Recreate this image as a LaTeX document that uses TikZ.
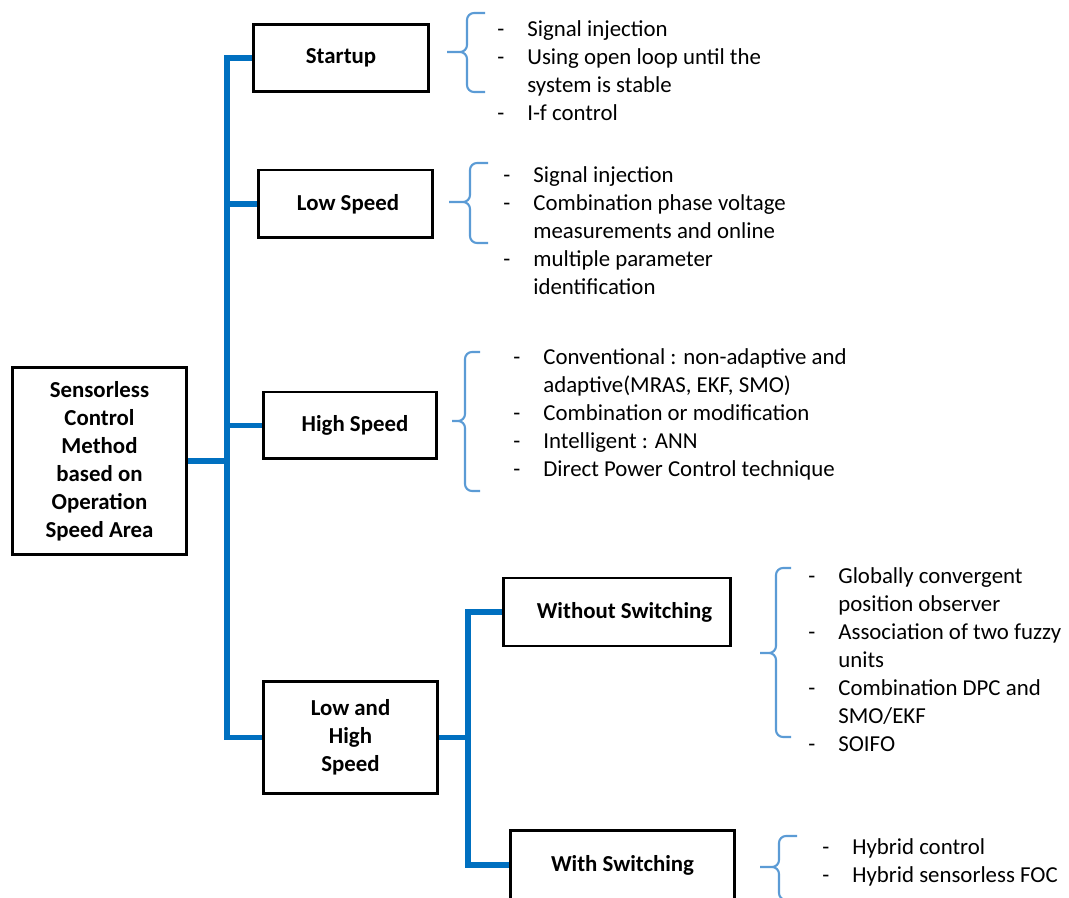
\documentclass[tikz,border=0pt]{standalone}
\usepackage{fontspec}
\setmainfont{Carlito}
\usepackage{tikz}
\definecolor{branchblue}{RGB}{0,112,192}
\definecolor{braceblue}{RGB}{91,155,213}

\tikzset{
  box/.style={draw=black, line width=1.7pt, fill=white, align=center, inner sep=0pt,
    font=\bfseries\fontsize{13}{15.9}\selectfont},
  branch/.style={draw=branchblue, line width=3.3pt, line join=miter},
  curly/.style={draw=braceblue, line width=1.2pt, rounded corners=4pt},
  items/.style={anchor=north west, inner sep=0pt, font=\fontsize{13}{15.9}\selectfont}
}

\begin{document}
\begin{tikzpicture}[x=0.02cm, y=-0.02cm]
\useasboundingbox (0,0) rectangle (1069,898);
% Draw the boxes
\node[box, minimum width=3.5cm, minimum height=3.76cm] (root) at (99.5,461)
  {Sensorless\\Control\\Method\\based on\\Operation\\Speed Area};
\node[box, minimum width=3.52cm, minimum height=1.34cm] (startup) at (341,58) {Startup};
\node[box, minimum width=3.5cm, minimum height=1.36cm] (low) at (345.5,204) {\hspace{0.1cm}Low Speed};
\node[box, minimum width=3.48cm, minimum height=1.34cm] (high) at (350,425.5) {\hspace{0.2cm}High Speed};
\node[box, minimum width=3.5cm, minimum height=2.26cm] (lowhigh) at (350.5,737.5) {Low and\\High\\Speed};
\node[box, minimum width=4.56cm, minimum height=1.36cm] (without) at (617,612) {\hspace{0.3cm}Without Switching};
\node[box, minimum width=4.5cm, minimum height=1.4cm] (with) at (622.5,865) {With Switching};
% Draw the blue branches
\coordinate (spine) at (227,0);
\coordinate (spinetwo) at (468,0);
\draw[branch] (startup.west) -- (startup.west -| spine) -- (lowhigh.west -| spine) -- (lowhigh.west);
\draw[branch] (root.east) -- (root.east -| spine);
\draw[branch] (low.west) -- (low.west -| spine);
\draw[branch] (high.west) -- (high.west -| spine);
\draw[branch] (without.west) -- (without.west -| spinetwo) -- (with.west -| spinetwo) -- (with.west);
\draw[branch] (lowhigh.east) -- (lowhigh.east -| spinetwo);
% Draw the braces
\draw[curly] (485,13) -- (467,13) -- (467,52) -- (447,52) (485,92) -- (467,92) -- (467,52) -- (447,52);
\draw[curly] (488,163) -- (470,163) -- (470,202) -- (449,202) (488,243) -- (470,243) -- (470,202) -- (449,202);
\draw[curly] (480,352) -- (465,352) -- (465,421) -- (452,421) (480,491) -- (465,491) -- (465,421) -- (452,421);
\draw[curly] (791,568) -- (776,568) -- (776,653) -- (760,653) (791,737) -- (776,737) -- (776,653) -- (760,653);
\draw[curly] (797,836) -- (779,836) -- (779,867) -- (760,867) (797,900) -- (779,900) -- (779,867) -- (760,867);
% Lists
\node[items] (startitems) at (497,17) {\begin{tabular}{@{}p{0.6cm}@{}l@{}}
  - & Signal injection\\
  - & Using open loop until the\\
    & system is stable\\
  - & I-f control
\end{tabular}};
\node[items] (lowitems) at (503,163) {\begin{tabular}{@{}p{0.6cm}@{}l@{}}
  - & Signal injection\\
  - & Combination phase voltage\\
    & measurements and online\\
  - & multiple parameter\\
    & identification
\end{tabular}};
\node[items] (highitems) at (513,345) {\begin{tabular}{@{}p{0.6cm}@{}l@{}}
  - & Conventional : non-adaptive and\\
    & adaptive(MRAS, EKF, SMO)\\
  - & Combination or modification\\
  - & Intelligent : ANN\\
  - & Direct Power Control technique
\end{tabular}};
\node[items] (withoutitems) at (808,564) {\begin{tabular}{@{}p{0.6cm}@{}l@{}}
  - & Globally convergent\\
    & position observer\\
  - & Association of two fuzzy\\
    & units\\
  - & Combination DPC and\\
    & SMO/EKF\\
  - & SOIFO
\end{tabular}};
\node[items] (withitems) at (822,835) {\begin{tabular}{@{}p{0.6cm}@{}l@{}}
  - & Hybrid control\\
  - & Hybrid sensorless FOC
\end{tabular}};
\end{tikzpicture}
\end{document}
